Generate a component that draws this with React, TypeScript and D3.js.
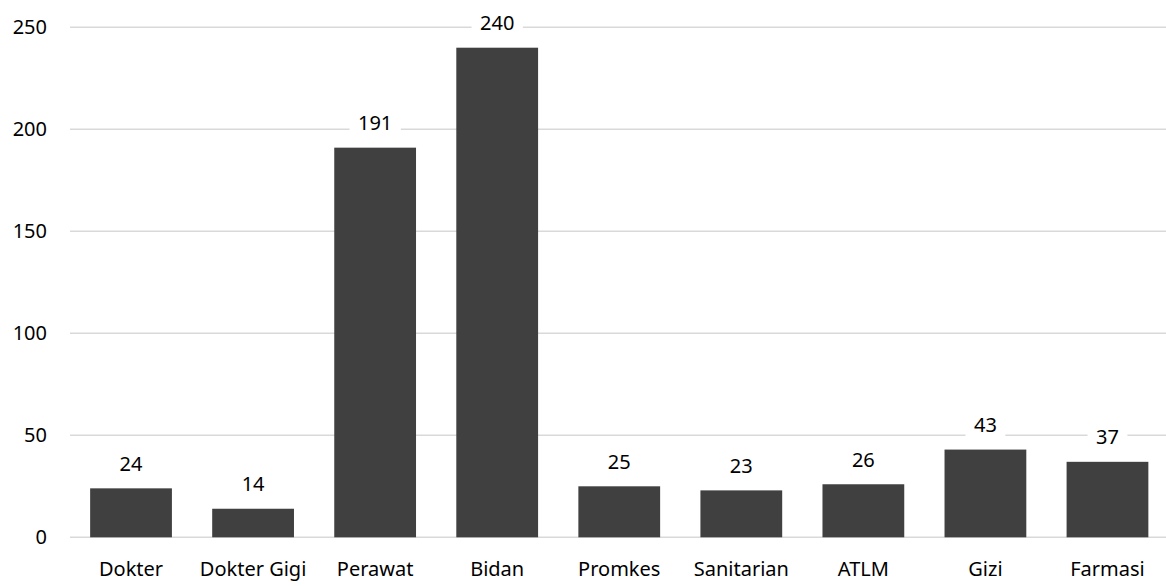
import React from "react";
import * as d3 from "d3";

const categories = ["Dokter", "Dokter Gigi", "Perawat", "Bidan", "Promkes", "Sanitarian", "ATLM", "Gizi", "Farmasi"];
const values = [24, 14, 191, 240, 25, 23, 26, 43, 37];
const yTicks = [0, 50, 100, 150, 200, 250];

const W = 1166;
const H = 586;
const FONT = "'Noto Sans', 'Open Sans', sans-serif";

export default function App() {
  const x = d3.scaleBand<string>().domain(categories).range([70, 1168.5]).paddingInner(0.33).paddingOuter(0.165);
  const y = d3.scaleLinear().domain([0, 250]).range([537.3, 27.3]);
  const fs = 20;
  return (
    <svg width={W} height={H} style={{ position: "absolute", left: 0, top: 0, background: "#fff" }} fontFamily={FONT}>
      {yTicks.map((t) => (
        <g key={t}>
          <line x1={70} x2={W} y1={y(t)} y2={y(t)} stroke="#d9d9d9" strokeWidth={1.5} />
          <text x={47} y={y(t)} dy="0.35em" textAnchor="end" fontSize={fs} fill="#000">
            {t}
          </text>
        </g>
      ))}
      {categories.map((c, i) => {
        const bx = x(c)!;
        const bw = x.bandwidth();
        const top = y(values[i]);
        const cx = bx + bw / 2;
        const label = String(values[i]);
        const tw = label.length * fs * 0.572;
        const base = top - 17.5;
        return (
          <g key={c}>
            <rect x={bx} y={top} width={bw} height={y(0) - top} fill="#404040" />
            <rect x={cx - tw / 2 - 8.5} y={base - 20} width={tw + 17} height={25} fill="#fff" />
            <text x={cx} y={base} textAnchor="middle" fontSize={fs} fill="#000">
              {label}
            </text>
            <text x={cx} y={576} textAnchor="middle" fontSize={fs} fill="#000">
              {c}
            </text>
          </g>
        );
      })}
    </svg>
  );
}
